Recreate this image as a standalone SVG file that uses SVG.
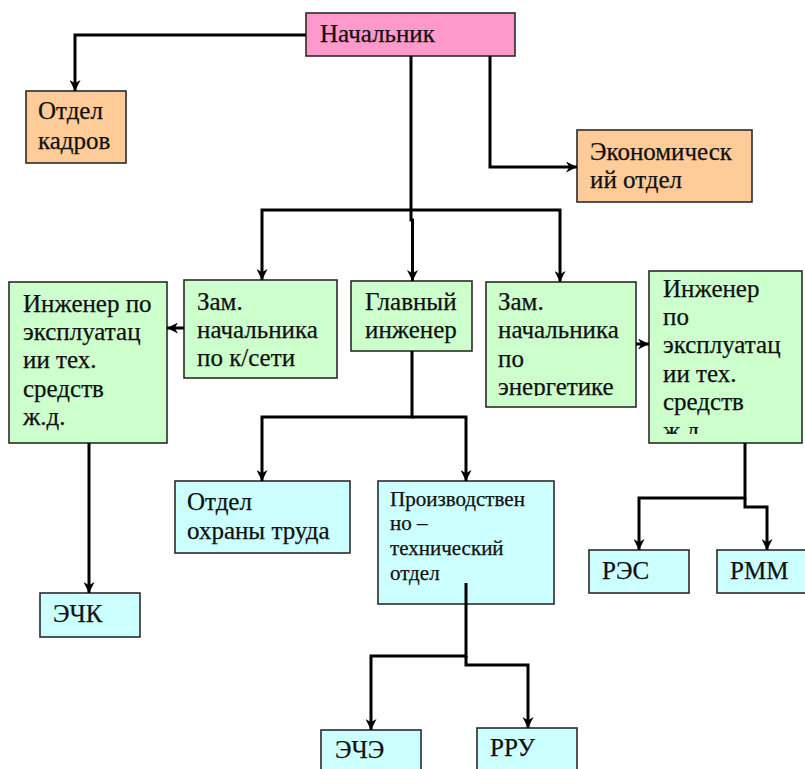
<svg xmlns="http://www.w3.org/2000/svg" width="805" height="769" viewBox="0 0 805 769">
<style>
.box{stroke:#2b2b2b;stroke-width:1.6}
.pink{fill:#FF99CC}
.orange{fill:#FFCC99}
.green{fill:#CCFFCC}
.cyan{fill:#CCFFFF}
.t{font-family:'Liberation Serif','Times New Roman','DejaVu Serif',serif;font-size:25px;fill:#111;stroke:#111;stroke-width:0.25}
.sm{font-size:21px}
.conn{fill:none;stroke:#000;stroke-width:3}
</style>
<defs>
<marker id="arr" viewBox="0 0 10 10" refX="10" refY="5" markerWidth="11" markerHeight="11" markerUnits="userSpaceOnUse" orient="auto">
<path d="M0,0 L10,5 L0,10 L3,5 Z" fill="#000"/>
</marker>
<clipPath id="clipEn"><rect x="486" y="282" width="150" height="114"/></clipPath>
<clipPath id="clipIr"><rect x="649" y="271" width="153" height="163"/></clipPath>
</defs>
<rect width="805" height="769" fill="#fff"/>

<g id="nachalnik">
<rect class="box pink" x="306" y="13" width="209" height="43"/>
<text class="t" x="320" y="42">Начальник</text>
</g>
<g id="otdel-kadrov">
<rect class="box orange" x="26" y="91" width="100" height="72"/>
<text class="t" x="38" y="119">Отдел</text>
<text class="t" x="38" y="149">кадров</text>
</g>
<g id="ekonom-otdel">
<rect class="box orange" x="577" y="130" width="175" height="72"/>
<text class="t" x="590" y="160">Экономическ</text>
<text class="t" x="590" y="188">ий отдел</text>
</g>
<g id="inzh-left">
<rect class="box green" x="9" y="282" width="158" height="161"/>
<text class="t" x="23" y="312">Инженер по</text>
<text class="t" x="23" y="340">эксплуатац</text>
<text class="t" x="23" y="368">ии тех.</text>
<text class="t" x="23" y="397">средств</text>
<text class="t" x="23" y="425">ж.д.</text>
</g>
<g id="zam-kseti">
<rect class="box green" x="184" y="280" width="153" height="98"/>
<text class="t" x="197" y="310">Зам.</text>
<text class="t" x="197" y="338">начальника</text>
<text class="t" x="197" y="366">по к/сети</text>
</g>
<g id="glav-inzh">
<rect class="box green" x="351" y="281" width="121" height="70"/>
<text class="t" x="365" y="310">Главный</text>
<text class="t" x="365" y="338">инженер</text>
</g>
<g id="zam-energ">
<rect class="box green" x="486" y="282" width="150" height="125"/>
<g clip-path="url(#clipEn)">
<text class="t" x="498" y="310">Зам.</text>
<text class="t" x="498" y="338">начальника</text>
<text class="t" x="498" y="367">по</text>
<text class="t" x="498" y="395">энергетике</text>
</g>
</g>
<g id="inzh-right">
<rect class="box green" x="649" y="271" width="153" height="172"/>
<g clip-path="url(#clipIr)">
<text class="t" x="663" y="297">Инженер</text>
<text class="t" x="663" y="325">по</text>
<text class="t" x="663" y="353">эксплуатац</text>
<text class="t" x="663" y="382">ии тех.</text>
<text class="t" x="663" y="410">средств</text>
<text class="t" x="663" y="439">ж.д.</text>
</g>
</g>
<g id="otdel-ohrany">
<rect class="box cyan" x="175" y="481" width="175" height="72"/>
<text class="t" x="187" y="510">Отдел</text>
<text class="t" x="187" y="539">охраны труда</text>
</g>
<g id="pto">
<rect class="box cyan" x="378" y="481" width="176" height="123"/>
<text class="t sm" x="390" y="506">Производствен</text>
<text class="t sm" x="390" y="530">но –</text>
<text class="t sm" x="390" y="555">технический</text>
<text class="t sm" x="390" y="580">отдел</text>
</g>
<g id="echk">
<rect class="box cyan" x="40" y="593" width="100" height="44"/>
<text class="t" x="53" y="622">ЭЧК</text>
</g>
<g id="eche">
<rect class="box cyan" x="321" y="730" width="100" height="50"/>
<text class="t" x="335" y="758">ЭЧЭ</text>
</g>
<g id="rru">
<rect class="box cyan" x="477" y="728" width="100" height="50"/>
<text class="t" x="490" y="756">РРУ</text>
</g>
<g id="res">
<rect class="box cyan" x="589" y="550" width="100" height="43"/>
<text class="t" x="602" y="579">РЭС</text>
</g>
<g id="rmm">
<rect class="box cyan" x="717" y="550" width="100" height="43"/>
<text class="t" x="730" y="579">РММ</text>
</g>

<g id="connectors">
<path class="conn" d="M306,35 H75 V91" marker-end="url(#arr)"/>
<path class="conn" d="M490,56 V167 H577" marker-end="url(#arr)"/>
<path class="conn" d="M411,56 V220 H412.5 V281" marker-end="url(#arr)"/>
<path class="conn" d="M411,210 H262 V280" marker-end="url(#arr)"/>
<path class="conn" d="M411,210 H560 V282" marker-end="url(#arr)"/>
<path class="conn" d="M184,328 H167" marker-end="url(#arr)"/>
<path class="conn" d="M636,344 H649" marker-end="url(#arr)"/>
<path class="conn" d="M89,443 V593" marker-end="url(#arr)"/>
<path class="conn" d="M412,351 V417 H262 V481" marker-end="url(#arr)"/>
<path class="conn" d="M412,417 H466 V481" marker-end="url(#arr)"/>
<path class="conn" d="M466,583 V656 H371 V730" marker-end="url(#arr)"/>
<path class="conn" d="M466,656 V665 H528 V728" marker-end="url(#arr)"/>
<path class="conn" d="M745,443 V498 H639 V550" marker-end="url(#arr)"/>
<path class="conn" d="M745,498 V507 H767 V550" marker-end="url(#arr)"/>
</g>
</svg>
